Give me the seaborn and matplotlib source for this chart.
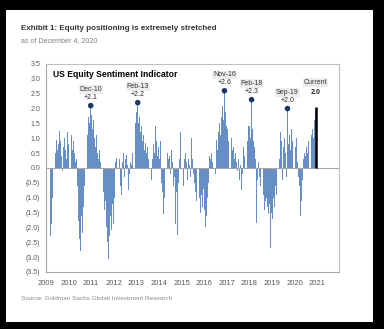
import numpy as np
import pandas as pd
import matplotlib
matplotlib.use("Agg")
import matplotlib.pyplot as plt
import seaborn as sns
from matplotlib.patches import Rectangle
from matplotlib.ticker import FuncFormatter, FixedLocator

nan = np.nan
# semi-monthly readings of the sentiment indicator (24 per year)
s2009 = [nan, nan, nan, nan, -2.3, -1.9, -1.0, -0.4, 0.75, 0.85, 0.5, 0.95,
         0.6, 0.8, 1.25, 0.9, 0.4, -0.1, 0.7, 1.0, 0.6, 0.3, 1.2, 0.8]
s2010 = [1.3, 0.7, 0.3, 1.1, 0.6, 0.9, 0.5, 0.2, 0.3, -0.6, -1.8, -2.4,
         -2.8, -1.6, -2.2, -1.3, -0.6, -0.3, 0.8, 1.4, 1.1, 1.7, 1.5, 2.1]
s2011 = [1.8, 1.3, 1.6, 1.0, 0.7, 1.1, 0.5, 0.3, 0.6, 0.2, 0.4, -0.2,
         0.35, -0.8, -1.4, -1.1, -2.0, -2.5, -3.05, -2.3, -1.6, -2.1, -1.2, -1.9]
s2012 = [-1.0, 0.2, 0.35, -0.3, 0.5, -0.4, 0.3, -0.6, -0.9, 0.2, 0.5, -0.3,
         0.3, 0.45, 0.1, -0.75, -0.2, 0.2, 0.1, 0.5, 0.7, 0.4, 1.0, 1.5]
s2013 = [1.9, 2.2, 1.5, 1.7, 1.2, 1.4, 0.9, 1.1, 0.6, 0.85, 0.5, 0.7,
         0.3, 1.5, 0.5, -1.7, -0.4, 0.3, 0.8, 0.5, 1.4, 0.9, 0.4, 0.7]
s2014 = [0.3, 0.9, -0.5, -0.8, -1.55, -1.0, -0.3, 0.2, -0.5, 0.5, 0.3, 0.4,
         -0.2, 0.6, 0.2, -0.6, -0.3, -1.9, -0.8, -2.25, -0.5, 0.3, 1.2, 0.4]
s2015 = [0.4, -0.3, -0.6, 0.3, 0.5, 0.2, -0.4, 0.3, 0.1, -0.3, 1.0, 0.3,
         -0.2, -0.5, -0.8, -1.1, -2.1, -1.3, -0.8, -1.0, -1.5, -0.9, -1.3, -0.7]
s2016 = [-1.4, -2.0, -1.6, -1.0, -0.5, 0.4, 0.3, 0.5, 0.2, 0.45, -0.3, -0.6,
         -0.2, 0.95, 0.6, 1.2, 1.5, 1.1, 1.7, 2.1, 1.6, 2.6, 1.9, 1.4]
s2017 = [1.3, 0.9, 1.2, 1.6, 0.8, 1.0, 0.6, 0.7, 0.3, 0.5, 0.2, -0.1,
         0.3, -0.4, 0.1, -0.75, -0.2, 0.7, 0.4, 1.0, 0.6, 1.2, 0.9, 1.4]
s2018 = [1.4, 1.0, 2.3, 1.3, 0.9, 0.7, 0.3, -1.85, -0.4, 0.2, -0.3, -0.6,
         -1.0, -0.7, -1.2, -0.9, -1.4, -1.1, -1.0, -1.3, -1.55, -1.2, -2.7, -1.5]
s2019 = [-1.7, -1.0, -1.3, -0.6, -0.9, -0.2, 0.4, 0.7, 0.3, 1.2, 0.9, -0.4,
         0.7, 1.0, 0.5, -0.3, 2.0, 0.8, 1.1, 0.6, 1.3, 0.9, 1.1, 0.8]
s2020 = [0.9, 0.7, 1.0, 0.2, -0.3, -0.6, -1.6, -1.1, -0.4, 0.3, 0.5, 0.4,
         0.7, 0.5, 0.9, 0.6, 1.0, 0.8, 1.1, 1.3, 1.0, 1.6, 2.0, nan]
years = list(range(2009, 2021))
series_by_year = [s2009, s2010, s2011, s2012, s2013, s2014, s2015, s2016,
                  s2017, s2018, s2019, s2020]

peak_labels = ["Dec-10", "Feb-13", "Nov-16", "Feb-18", "Sep-19"]
peak_values = [2.1, 2.2, 2.6, 2.3, 2.0]
peak_dates = [2010.98, 2013.06, 2016.90, 2018.10, 2019.69]
current_date = 2020.94
current_value = 2.0

yticks = [3.5, 3.0, 2.5, 2.0, 1.5, 1.0, 0.5, 0.0, -0.5, -1.0, -1.5, -2.0, -2.5, -3.0, -3.5]
xticks = list(range(2009, 2022))

title = "Exhibit 1: Equity positioning is extremely stretched"
subtitle = "as of December 4, 2020"
chart_title = "US Equity Sentiment Indicator"
source = "Source: Goldman Sachs Global Investment Research"

rows = []
for y, vals in zip(years, series_by_year):
    for i, v in enumerate(vals):
        if not np.isnan(v):
            rows.append((round(y + (i + 0.5) / 24, 4), v))
df = pd.DataFrame(rows, columns=["date", "value"])

sns.set_style("white")
plt.rcParams["font.family"] = ["Liberation Sans", "DejaVu Sans"]

W, H = 384, 329
fig = plt.figure(figsize=(W / 100, H / 100), dpi=100)
fig.patch.set_facecolor("black")
fig.patches.append(Rectangle((6 / W, 1 - 322 / H), 367 / W, 312 / H,
                             transform=fig.transFigure, facecolor="white",
                             edgecolor="none", zorder=-5))

ax = fig.add_axes([46 / W, 1 - 272 / H, 293 / W, 208 / H])
ax.set_zorder(2)
ax.set_facecolor("white")

bar_color = "#6690C5"
sns.barplot(data=df, x="date", y="value", native_scale=True, color=bar_color,
            saturation=1, width=0.88, errorbar=None, linewidth=0, ax=ax)

ax.axhline(0, color="#A6A6A6", lw=0.8, zorder=1)

# current reading
ax.vlines(current_date, 0, current_value + 0.05, color="black", lw=1.8, zorder=4)
ax.annotate("Current", (current_date, current_value), xytext=(0, 26),
            textcoords="offset pixels", ha="center", va="center",
            fontsize=5, color="#333333",
            bbox=dict(boxstyle="square,pad=0.1", fc="#EDEDED", ec="none"))
ax.annotate(f"{current_value:.1f}", (current_date, current_value), xytext=(0, 16),
            textcoords="offset pixels", ha="center", va="center",
            fontsize=5, color="#222222", fontweight="bold")

# peaks
sns.scatterplot(x=peak_dates, y=peak_values, color="#163A63", s=16,
                edgecolor="none", zorder=5, ax=ax, legend=False)
for lab, d, v in zip(peak_labels, peak_dates, peak_values):
    ax.annotate(lab, (d, v), xytext=(0, 16), textcoords="offset pixels",
                ha="center", va="center", fontsize=5, color="#333333",
                bbox=dict(boxstyle="square,pad=0.1", fc="#EDEDED", ec="none"))
    ax.annotate(f"+{v:.1f}", (d, v), xytext=(0, 8), textcoords="offset pixels",
                ha="center", va="center", fontsize=5, color="#222222")

ax.set_xlim(2009, 2021.97)
ax.set_ylim(-3.5, 3.5)
ax.xaxis.set_major_locator(FixedLocator(xticks))
ax.set_xticklabels([str(x) for x in xticks])
ax.yaxis.set_major_locator(FixedLocator(yticks))
ax.yaxis.set_major_formatter(FuncFormatter(
    lambda v, p: f"({abs(v):.1f})" if v < 0 else f"{v:.1f}"))
ax.tick_params(axis="both", length=0, colors="#595959", labelsize=5, pad=4)
ax.tick_params(axis="x", labelsize=5.5, pad=6)
ax.set_xlabel("")
ax.set_ylabel("")
for s in ax.spines.values():
    s.set_visible(True)
    s.set_color("#BFBFBF")
    s.set_linewidth(0.8)
ax.spines["left"].set_color("#A6A6A6")
ax.spines["bottom"].set_color("#A6A6A6")

ax.text(0.025, 0.95, chart_title, transform=ax.transAxes, ha="left", va="center",
        fontsize=6.2, fontweight="bold", color="black")

fig.text(21 / W, 1 - 29 / H, title, ha="left", va="center", fontsize=5.8,
         fontweight="bold", color="#333333")
fig.text(21 / W, 1 - 41 / H, subtitle, ha="left", va="center", fontsize=5.1,
         color="#808080")
fig.text(21 / W, 1 - 299 / H, source, ha="left", va="center", fontsize=4.6,
         color="#8C8C8C")

fig.savefig("out.png", dpi=100, facecolor=fig.get_facecolor())
